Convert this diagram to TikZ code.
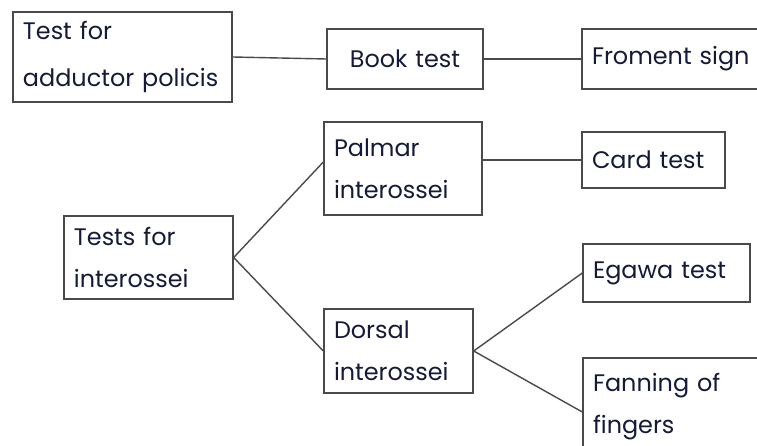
\documentclass[tikz,border=0pt]{standalone}
\usepackage{fontspec}
\setmainfont{Poppins}
\definecolor{ink}{HTML}{141A38}
\definecolor{edge}{HTML}{4A4A4A}
\begin{document}
\begin{tikzpicture}[x=1bp,y=-1bp,
  box/.style={draw=edge,line width=1.4bp,rectangle,inner xsep=10bp,inner ysep=0bp,
    align=left,text=ink,font=\fontsize{24}{42}\selectfont},
  link/.style={draw=edge,line width=1.4bp}]
\useasboundingbox[fill=white] (0,0) rectangle (757,446);
\node[box,text width=199bp,minimum height=90bp,font=\fontsize{24}{48}\selectfont] (A) at (122.5,57) {Test for\\adductor policis};
\node[box,text width=136bp,minimum height=60bp,align=center] (B) at (405,59) {Book test};
\node[box,text width=168bp,minimum height=60bp] (C) at (676,59) {Froment sign};
\node[box,text width=149bp,minimum height=83bp] (D) at (148.5,257.5) {Tests for\\interossei};
\node[box,text width=138bp,minimum height=93bp] (E) at (403,168.5) {Palmar\\interossei};
\node[box,text width=129bp,minimum height=84bp] (F) at (398.5,351) {Dorsal\\interossei};
\node[box,text width=123bp,minimum height=56bp] (G) at (653.5,160) {Card test};
\node[box,text width=147bp,minimum height=58bp] (H) at (666.5,273) {Egawa test};
\node[box,text width=172bp,minimum height=97bp] (I) at (679,406.5) {Fanning of\\fingers};
\draw[link] (A.east) -- (B.west);
\draw[link] (B.east) -- (C.west);
\draw[link] (D.east) -- ([yshift=6.5bp]E.west);
\draw[link] (D.east) -- (F.west);
\draw[link] (G.west -| E.east) -- (G.west);
\draw[link] (F.east) -- (H.west);
\draw[link] (F.east) -- ([yshift=-5.5bp]I.west);
\end{tikzpicture}
\end{document}
